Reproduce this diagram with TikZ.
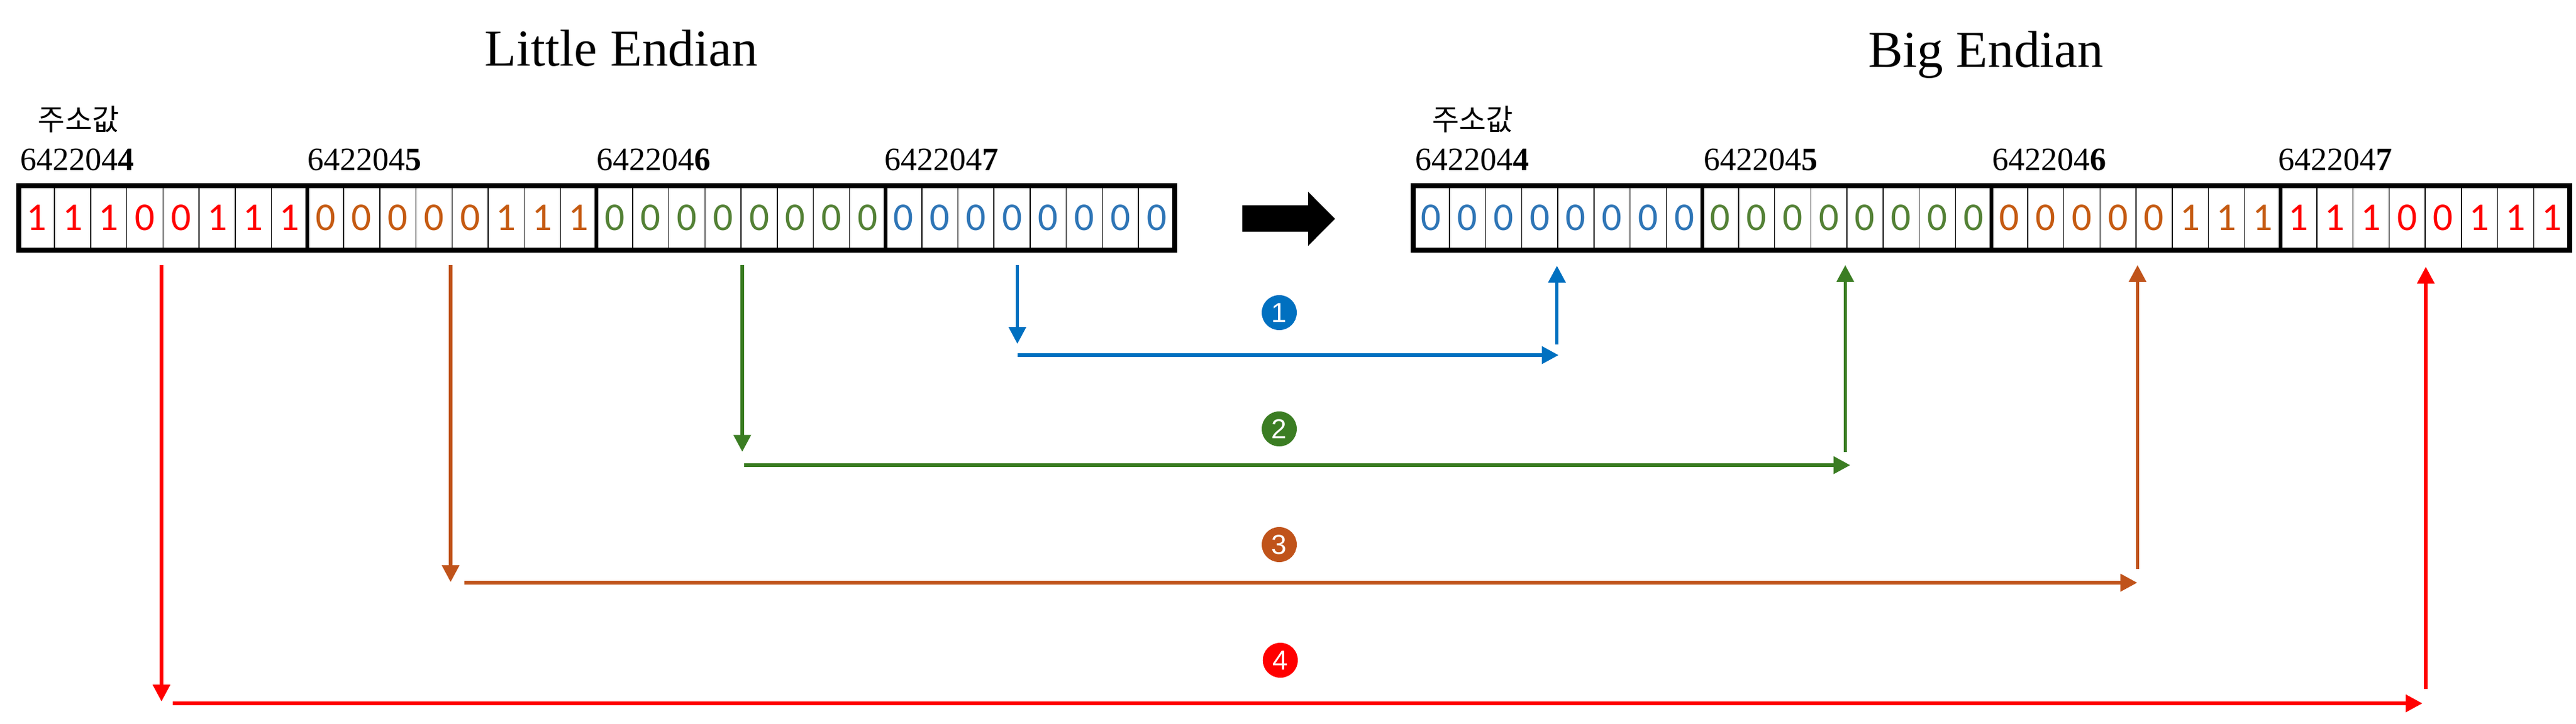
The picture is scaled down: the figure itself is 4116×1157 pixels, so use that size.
\documentclass[tikz,border=0pt]{standalone}
\usepackage{fontspec}
\setmainfont{Liberation Serif}
\newfontfamily\bitfont{Carlito}
\newfontfamily\krfont{Noto Sans CJK KR}
\newfontfamily\circfont{Liberation Sans}
\usetikzlibrary{arrows.meta}
\definecolor{bred}{HTML}{FF0000}
\definecolor{borange}{HTML}{C55A11}
\definecolor{bgreen}{HTML}{538135}
\definecolor{bblue}{HTML}{2E75B6}
\definecolor{ablue}{HTML}{0070C0}
\definecolor{agreen}{HTML}{3B7D23}
\definecolor{aorange}{HTML}{C0531A}
\definecolor{ared}{HTML}{FF0000}
\begin{document}
\begin{tikzpicture}[x=1pt,y=-1pt,
 cell/.style={draw, line width=1.5pt, minimum width=57.73pt, minimum height=103pt, inner sep=0pt, outer sep=0pt, font=\bitfont\fontsize{63}{63}\selectfont},
 bytebox/.style={draw, line width=6pt},
 outerbox/.style={draw, line width=8pt},
 addr/.style={anchor=base west, inner sep=0pt, font=\fontsize{52}{52}\selectfont},
 title/.style={anchor=base, inner sep=0pt, font=\fontsize{83}{83}\selectfont},
 kr/.style={anchor=west, inner sep=0pt, font=\krfont\fontsize{47}{47}\selectfont},
 move/.style={-{Triangle[length=27pt,width=27pt]}},
 vline/.style={line width=5.5pt},
 hline/.style={line width=6.5pt},
 badge/.style={circle, minimum size=56pt, inner sep=0pt, text=white, font=\circfont\fontsize{44}{44}\selectfont}
]
\useasboundingbox (0,0) rectangle (4116,1157);

% titles
\node[title] (tl) at (992.7,105.7) {Little Endian};
\node[title] (tb) at (3173,107) {Big Endian};

% Korean labels
\node[kr] (k1) at (60.6,191) {주소값};
\node[kr] (k2) at (2287.8,191) {주소값};

% address labels
\node[addr] (la0) at (32,272) {642204\textbf{4}};
\node[addr] (la1) at (491,272) {642204\textbf{5}};
\node[addr] (la2) at (953,272) {642204\textbf{6}};
\node[addr] (la3) at (1413,272) {642204\textbf{7}};
\node[addr] (ra0) at (2261.6,272) {642204\textbf{4}};
\node[addr] (ra1) at (2722,272) {642204\textbf{5}};
\node[addr] (ra2) at (3183,272) {642204\textbf{6}};
\node[addr] (ra3) at (3640,272) {642204\textbf{7}};

% left register
\foreach \bi/\bits/\col in {0/{1,1,1,0,0,1,1,1}/bred, 1/{0,0,0,0,0,1,1,1}/borange, 2/{0,0,0,0,0,0,0,0}/bgreen, 3/{0,0,0,0,0,0,0,0}/bblue}{
  \foreach \v [count=\k from 0] in \bits {
    \node[cell, text=\col] (L-\bi-\k) at ({29.5 + (8*\bi+\k+0.5)*57.73}, 348.5) {\v};
  }
  \draw[bytebox] (L-\bi-0.north west) rectangle (L-\bi-7.south east);
}
\draw[outerbox] (L-0-0.north west) rectangle (L-3-7.south east);

% right register
\foreach \bi/\bits/\col in {0/{0,0,0,0,0,0,0,0}/bblue, 1/{0,0,0,0,0,0,0,0}/bgreen, 2/{0,0,0,0,0,1,1,1}/borange, 3/{1,1,1,0,0,1,1,1}/bred}{
  \foreach \v [count=\k from 0] in \bits {
    \node[cell, text=\col] (R-\bi-\k) at ({2258 + (8*\bi+\k+0.5)*57.75}, 348.5) {\v};
  }
  \draw[bytebox] (R-\bi-0.north west) rectangle (R-\bi-7.south east);
}
\draw[outerbox] (R-0-0.north west) rectangle (R-3-7.south east);

% big arrow
\fill (1985,328.3) -- (2090,328.3) -- (2090,306.7) -- (2133,350) -- (2090,393.3) -- (2090,370.7) -- (1985,370.7) -- cycle;

% coordinates for connectors
\coordinate (b1) at (1625.6,424);   \coordinate (b2) at (1625.6,550);
\coordinate (b3) at (1625.6,568);   \coordinate (b4) at (2490.5,568);
\coordinate (b5) at (2487.7,550.7); \coordinate (b6) at (2487.7,425);
\coordinate (g1) at (1186,424);     \coordinate (g2) at (1186,722.6);
\coordinate (g3) at (1189,744);     \coordinate (g4) at (2956.5,744);
\coordinate (g5) at (2948.4,722.6); \coordinate (g6) at (2948.4,424);
\coordinate (o1) at (720,424);      \coordinate (o2) at (720,931);
\coordinate (o3) at (741.6,932);    \coordinate (o4) at (3415,932);
\coordinate (o5) at (3415.4,910);   \coordinate (o6) at (3415.4,424);
\coordinate (r1) at (258,424);      \coordinate (r2) at (258,1122);
\coordinate (r3) at (276,1125);     \coordinate (r4) at (3870.7,1125);
\coordinate (r5) at (3876,1101.6);  \coordinate (r6) at (3876,426.6);

\draw[move,vline,ablue] (b1) -- (b2);
\draw[move,hline,ablue] (b3) -- (b4);
\draw[move,vline,ablue] (b5) -- (b6);
\draw[move,vline,agreen] (g1) -- (g2);
\draw[move,hline,agreen] (g3) -- (g4);
\draw[move,vline,agreen] (g5) -- (g6);
\draw[move,vline,aorange] (o1) -- (o2);
\draw[move,hline,aorange] (o3) -- (o4);
\draw[move,vline,aorange] (o5) -- (o6);
\draw[move,vline,ared] (r1) -- (r2);
\draw[move,hline,ared] (r3) -- (r4);
\draw[move,vline,ared] (r5) -- (r6);

% badges
\node[badge, fill=ablue] (n1) at (2044,500) {1};
\node[badge, fill=agreen] (n2) at (2044,686) {2};
\node[badge, fill=aorange] (n3) at (2044,871) {3};
\node[badge, fill=ared] (n4) at (2045.7,1056) {4};
\end{tikzpicture}
\end{document}
